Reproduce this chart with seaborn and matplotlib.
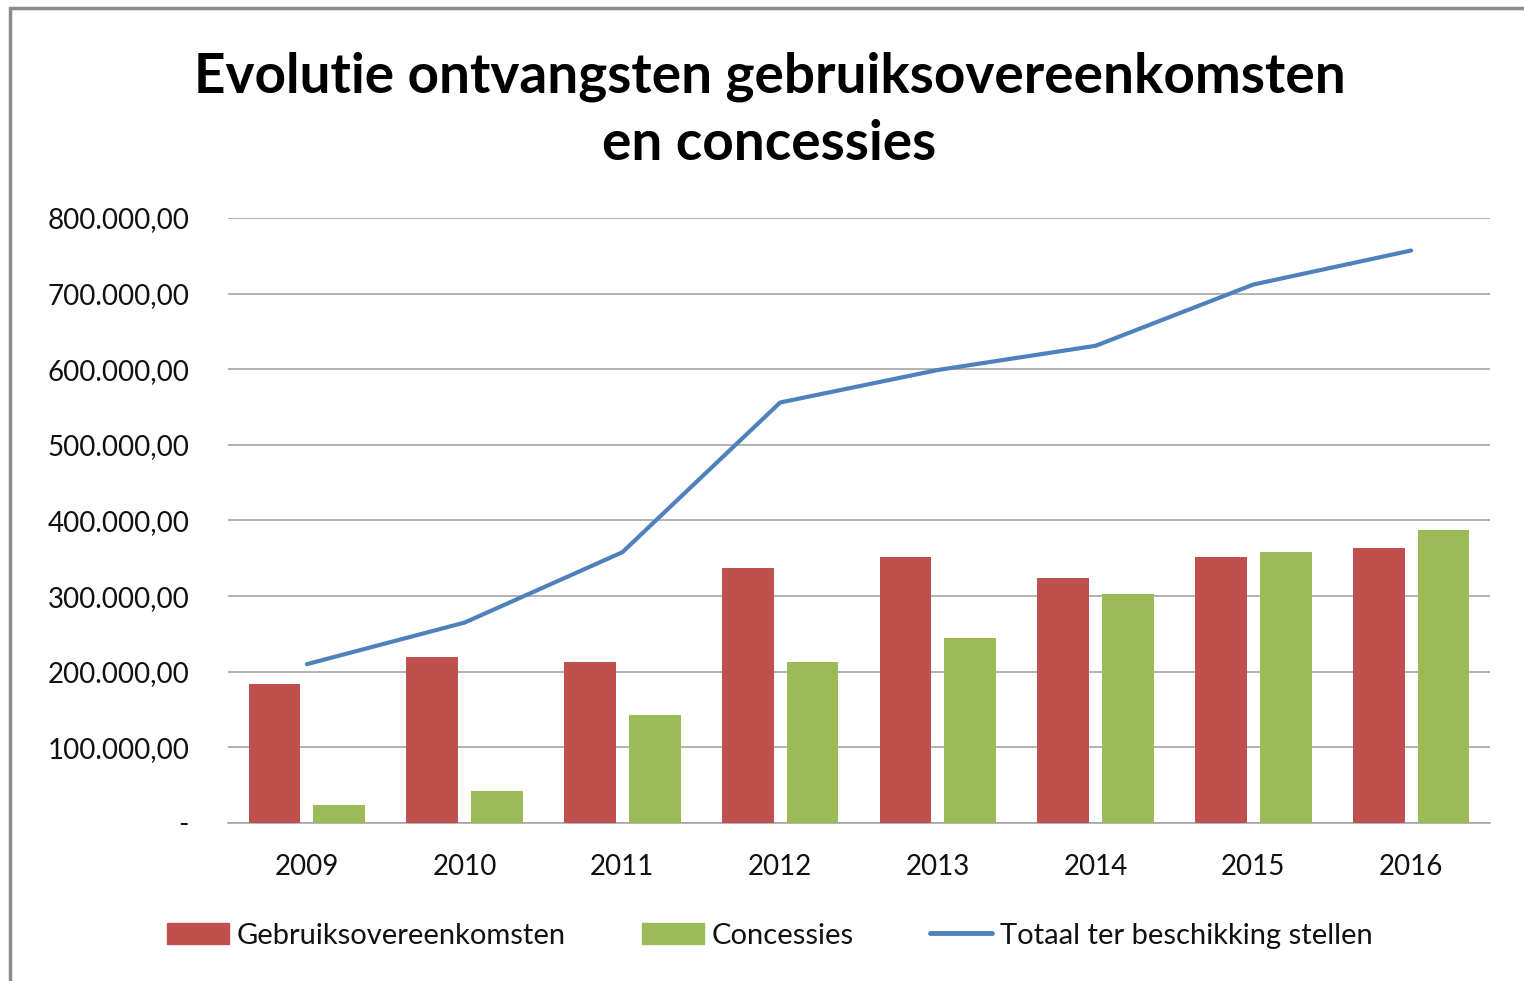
import numpy as np
import pandas as pd
import matplotlib.pyplot as plt
import matplotlib.patches as mpatches
from matplotlib.lines import Line2D
from matplotlib.ticker import FuncFormatter
import seaborn as sns

years = ["2009", "2010", "2011", "2012", "2013", "2014", "2015", "2016"]
gebruik = [184000, 220000, 213000, 337000, 352000, 324000, 352000, 364000]
concessies = [24000, 42000, 143000, 213000, 245000, 303000, 358000, 388000]
totaal = [210000, 265000, 358000, 556000, 599000, 631000, 712000, 757000]

labels = ["Gebruiksovereenkomsten", "Concessies", "Totaal ter beschikking stellen"]
colors = ["#C0504D", "#9BBB59", "#4F81BD"]

sns.set_theme(style="white")
plt.rcParams["font.family"] = ["Lato", "DejaVu Sans"]

df = pd.DataFrame({"jaar": years * 2,
                   "bedrag": gebruik + concessies,
                   "soort": [labels[0]] * 8 + [labels[1]] * 8})

fig = plt.figure(figsize=(15.24, 9.81), dpi=100)
ax = fig.add_axes([0.1496, 0.1611, 0.8281, 0.6167])

sns.barplot(data=df, x="jaar", y="bedrag", hue="soort", palette=colors[:2],
            saturation=1, width=0.82, gap=0.2, legend=False, ax=ax,
            linewidth=0, zorder=3)
sns.lineplot(x=np.arange(len(years)), y=totaal, color=colors[2], linewidth=3,
             ax=ax, zorder=4)

ax.set_ylim(0, 800000)
ax.set_xlim(-0.5, len(years) - 0.5)
ax.set_yticks(np.arange(0, 800001, 100000))


def fmt(v, pos):
    if v == 0:
        return "-"
    return f"{v:,.2f}".replace(",", "X").replace(".", ",").replace("X", ".")


ax.yaxis.set_major_formatter(FuncFormatter(fmt))
ax.grid(axis="y", color="#A6A6A6", linewidth=1.2, zorder=0)
ax.set_axisbelow(True)
for s in ["left", "right", "top"]:
    ax.spines[s].set_visible(False)
ax.spines["bottom"].set_color("#A6A6A6")
ax.spines["bottom"].set_linewidth(1.2)
ax.tick_params(axis="y", labelsize=20, pad=28, length=0, colors="#111111")
ax.tick_params(axis="x", labelsize=20, pad=22, length=0, colors="#111111")
ax.set_xlabel("")
ax.set_ylabel("")

fig.text(0.505, 0.888, "Evolutie ontvangsten gebruiksovereenkomsten\nen concessies",
         ha="center", va="center", fontsize=39.5, fontweight="bold",
         linespacing=1.42, color="black")

handles = [mpatches.Patch(color=colors[0]), mpatches.Patch(color=colors[1]),
           Line2D([], [], color=colors[2], linewidth=3.5)]
fig.legend(handles, labels, loc="center", bbox_to_anchor=(0.505, 0.046), ncol=3,
           frameon=False, fontsize=21, handlelength=2.15, handleheight=0.75,
           handletextpad=0.25, columnspacing=2.6, labelcolor="#111111")

# outer frame
fig.add_artist(mpatches.Rectangle((0.0066, -0.05), 1.1, 1.042, transform=fig.transFigure,
                                  fill=False, edgecolor="#8C8C8C", linewidth=2.5))

fig.savefig("out.png", dpi=100)
